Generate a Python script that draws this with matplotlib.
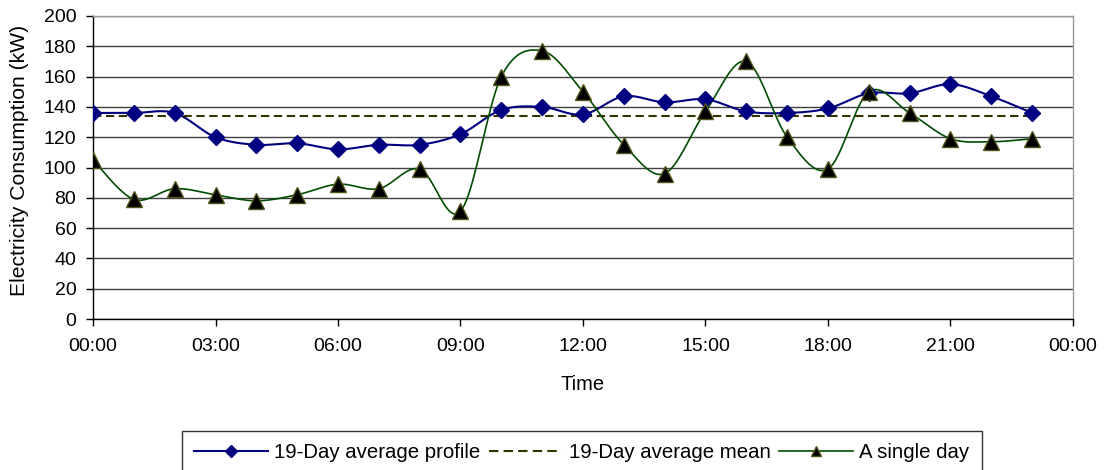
import numpy as np
import matplotlib
matplotlib.use("Agg")
import matplotlib.pyplot as plt
from matplotlib.ticker import FixedLocator, FuncFormatter

plt.rcParams["font.family"] = ["Liberation Sans", "DejaVu Sans"]

hours = list(range(24))
avg_profile = [136, 136, 136, 120, 115, 116, 112, 115, 115, 122, 138, 140,
               135, 147, 143, 145, 137, 136, 139, 149, 149, 155, 147, 136]
avg_mean = 134
single_day = [105, 79, 86, 82, 78, 82, 89, 86, 99, 71, 160, 177,
              150, 115, 96, 137, 170, 120, 99, 150, 136, 119, 117, 119]
x_ticks = [0, 3, 6, 9, 12, 15, 18, 21, 24]
y_ticks = list(range(0, 201, 20))


def smooth(x, y, n=20):
    # Excel-style smoothed line: Catmull-Rom through the points
    x = np.asarray(x, float)
    y = np.asarray(y, float)
    px = np.concatenate([[x[0]], x, [x[-1]]])
    py = np.concatenate([[y[0]], y, [y[-1]]])
    xs, ys = [], []
    t = np.linspace(0, 1, n, endpoint=False)
    for i in range(1, len(px) - 2):
        p0, p1, p2, p3 = px[i - 1], px[i], px[i + 1], px[i + 2]
        q0, q1, q2, q3 = py[i - 1], py[i], py[i + 1], py[i + 2]
        c1x, c1y = p1 + (p2 - p0) / 6, q1 + (q2 - q0) / 6
        c2x, c2y = p2 - (p3 - p1) / 6, q2 - (q3 - q1) / 6
        b0, b1, b2, b3 = (1 - t) ** 3, 3 * t * (1 - t) ** 2, 3 * t ** 2 * (1 - t), t ** 3
        xs.append(b0 * p1 + b1 * c1x + b2 * c2x + b3 * p2)
        ys.append(b0 * q1 + b1 * c1y + b2 * c2y + b3 * q2)
    xs.append([x[-1]])
    ys.append([y[-1]])
    return np.concatenate(xs), np.concatenate(ys)


blue = "#000080"
green = "#004d00"
olive = "#333300"

fig = plt.figure(figsize=(11.04, 4.70), dpi=100)
ax = fig.add_axes([93 / 1104, 1 - 319 / 470, 980 / 1104, 303 / 470])

ax.set_axisbelow(True)
ax.yaxis.grid(True, color="#404040", linewidth=1.0)

sx, sy = smooth(hours, avg_profile)
ax.plot(sx, sy, color=blue, linewidth=1.5, zorder=3)
ax.plot(hours, avg_profile, linestyle="none", marker="D", markersize=7.8,
        color=blue, zorder=4)
ax.plot([hours[0], hours[-1]], [avg_mean, avg_mean], color=olive,
        linewidth=1.5, dashes=(4, 2.2), zorder=3)
sx, sy = smooth(hours, single_day)
ax.plot(sx, sy, color=green, linewidth=1.2, zorder=3)
ax.plot(hours, single_day, linestyle="none", marker="^", markersize=11,
        markerfacecolor="black", markeredgecolor="#55551a",
        markeredgewidth=1.0, zorder=5)

# legend proxies
h1, = ax.plot([], [], color=blue, linewidth=1.5, marker="D", markersize=6)
h2, = ax.plot([], [], color=olive, linewidth=1.5, dashes=(4.5, 2.5))
h3, = ax.plot([], [], color=green, linewidth=1.2, marker="^", markersize=7,
              markerfacecolor="black", markeredgecolor="#55551a")

ax.set_xlim(0, 24)
ax.set_ylim(0, 200)
ax.xaxis.set_major_locator(FixedLocator(x_ticks))
ax.xaxis.set_major_formatter(FuncFormatter(lambda v, p: f"{int(v) % 24:02d}:00"))
ax.yaxis.set_major_locator(FixedLocator(y_ticks))
ax.tick_params(axis="both", labelsize=14, length=5, width=1, color="black",
               direction="out")
ax.tick_params(axis="x", pad=9)
ax.tick_params(axis="y", pad=7)

for side in ("left", "bottom"):
    ax.spines[side].set_color("black")
    ax.spines[side].set_linewidth(1.0)
for side in ("top", "right"):
    ax.spines[side].set_color("#999999")
    ax.spines[side].set_linewidth(1.0)

fig.text(20 / 1104, 1 - 160 / 470, "Electricity Consumption (kW)", rotation=90,
         ha="center", va="center", fontsize=15.2)
fig.text(583 / 1104, 1 - 384 / 470, "Time", ha="center", va="center", fontsize=14.5)

leg = fig.legend([h1, h2, h3],
                 ["19-Day average profile", "19-Day average mean", "A single day"],
                 loc="upper left", bbox_to_anchor=(182 / 1104, 1 - 431 / 470),
                 ncol=3, fontsize=14.7, frameon=True, fancybox=False,
                 edgecolor="black", handlelength=3.6, handletextpad=0.33,
                 columnspacing=0.4, borderpad=0.6, borderaxespad=0, numpoints=1)
leg.get_frame().set_linewidth(1.0)

fig.savefig("out.png", dpi=100)
